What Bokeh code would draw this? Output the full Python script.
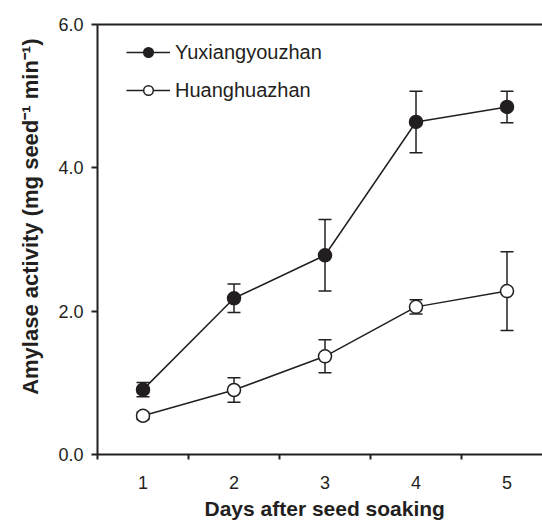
from bokeh.plotting import figure
from bokeh.models import (ColumnDataSource, Whisker, FixedTicker, LinearAxis,
                          Legend, LegendItem, Title, Range1d, TeeHead)
from bokeh.embed import file_html
from bokeh.resources import INLINE

# ---- data ----
days = [1, 2, 3, 4, 5]
yux_mean = [0.905, 2.18, 2.78, 4.64, 4.85]
yux_err = [0.10, 0.20, 0.50, 0.43, 0.22]
hua_mean = [0.54, 0.90, 1.37, 2.06, 2.28]
hua_err = [0.05, 0.17, 0.23, 0.10, 0.55]
series_names = ["Yuxiangyouzhan", "Huanghuazhan"]
y_ticks = [0, 2, 4, 6]
y_tick_labels = ["0.0", "2.0", "4.0", "6.0"]
x_tick_labels = ["1", "2", "3", "4", "5"]
x_title = "Days after seed soaking"
y_title = "Amylase activity (mg seed\u207b\u00b9 min\u207b\u00b9)"

INK = "#231f20"
FONT = "Liberation Sans"

p = figure(width=542, height=523, output_backend="svg", toolbar_location=None,
           x_range=Range1d(0.5, 5.39), y_range=Range1d(0, 6),
           min_border_left=97, min_border_right=0, min_border_top=24,
           min_border_bottom=68)
p.outline_line_color = None
p.xgrid.visible = False
p.ygrid.visible = False
p.background_fill_color = "white"
p.border_fill_color = "white"

# x axis
minor = [d - 0.5 for d in days] + [days[-1] + 0.5]
xa = p.xaxis[0]
xa.ticker = FixedTicker(ticks=days, minor_ticks=minor)
xa.major_label_overrides = {d: l for d, l in zip(days, x_tick_labels)}
xa.major_tick_line_color = None
xa.major_tick_out = 0
xa.major_tick_in = 0
xa.minor_tick_out = 5
xa.minor_tick_in = 0
xa.minor_tick_line_width = 2
xa.minor_tick_line_color = INK
xa.axis_line_width = 2
xa.axis_line_color = INK
xa.major_label_standoff = 16
xa.major_label_text_font_size = "18px"
xa.major_label_text_font = FONT
xa.major_label_text_color = INK

# y axis
ya = p.yaxis[0]
ya.ticker = FixedTicker(ticks=y_ticks, minor_ticks=[])
ya.major_label_overrides = {t: l for t, l in zip(y_ticks, y_tick_labels)}
ya.major_tick_out = 6
ya.major_tick_in = 0
ya.major_tick_line_width = 2
ya.major_tick_line_color = INK
ya.minor_tick_line_color = None
ya.axis_line_width = 2
ya.axis_line_color = INK
ya.major_label_standoff = 8
ya.major_label_text_font_size = "18px"
ya.major_label_text_font = FONT
ya.major_label_text_color = INK

# top border line
top = LinearAxis(ticker=FixedTicker(ticks=[]), axis_line_width=2, axis_line_color=INK,
                 major_tick_line_color=None, minor_tick_line_color=None,
                 major_label_text_font_size="0px")
p.add_layout(top, "above")

# error bars
for mean, err in ((yux_mean, yux_err), (hua_mean, hua_err)):
    up = [m + e for m, e in zip(mean, err)]
    lo = [m - e for m, e in zip(mean, err)]
    src = ColumnDataSource(dict(x=days, upper=up, lower=lo))
    w = Whisker(source=src, base="x", upper="upper", lower="lower",
                line_width=1.5, line_color=INK,
                upper_head=TeeHead(size=13, line_width=1.5, line_color=INK),
                lower_head=TeeHead(size=13, line_width=1.5, line_color=INK))
    p.add_layout(w)

l1 = p.line(days, yux_mean, line_width=1.5, line_color=INK)
s1 = p.scatter(days, yux_mean, size=13, marker="circle", fill_color=INK,
               line_color=INK, line_width=1.5)
l2 = p.line(days, hua_mean, line_width=1.5, line_color=INK)
s2 = p.scatter(days, hua_mean, size=13, marker="circle", fill_color="white",
               line_color=INK, line_width=1.5)

legend = Legend(items=[LegendItem(label=series_names[0], renderers=[l1, s1]),
                       LegendItem(label=series_names[1], renderers=[l2, s2])],
                location=(29, 352), glyph_width=44, glyph_height=24,
                label_height=24, spacing=14, padding=0, margin=0,
                border_line_color=None, background_fill_alpha=0,
                label_text_font_size="20px", label_text_font=FONT,
                label_text_color=INK, label_standoff=5)
p.add_layout(legend)

p.add_layout(Title(text=y_title, align="right", offset=14, standoff=25,
                   text_font_size="22px", text_font_style="bold",
                   text_font=FONT, text_color=INK), "left")
p.add_layout(Title(text=x_title, align="left", offset=107, standoff=7,
                   text_font_size="21px", text_font_style="bold",
                   text_font=FONT, text_color=INK), "below")

open("out.html", "w").write(file_html(p, INLINE))
